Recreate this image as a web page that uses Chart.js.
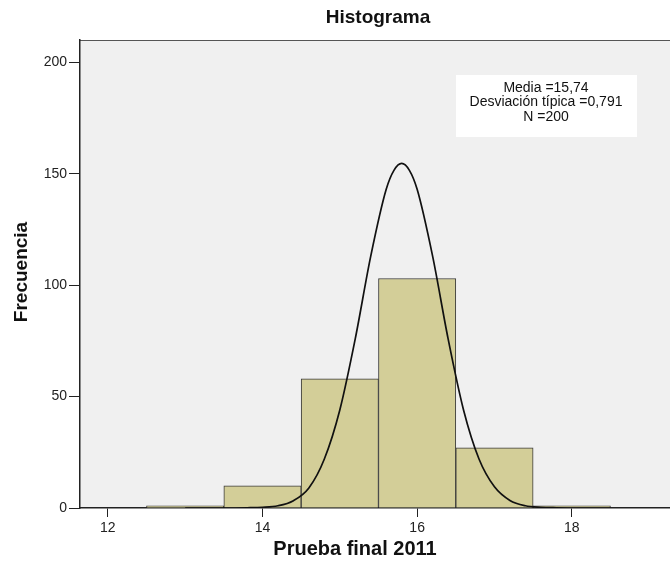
<!DOCTYPE html>
<html>
<head>
<meta charset="utf-8">
<script src="https://cdn.jsdelivr.net/npm/chart.js@4.4.1/dist/chart.umd.min.js"></script>
<style>
  html, body { margin: 0; padding: 0; background: #fff; }
  #wrap { width: 670px; height: 565px; }
</style>
</head>
<body>
<div id="wrap"><canvas id="hist" width="670" height="565"></canvas></div>
<script>
// Histogram bins (centre of each 1-point bin) and counts
const binCenters = [13, 14, 15, 16, 17, 18];
const frequencies = [1, 10, 58, 103, 27, 1];

// Normal curve
const curveX = [13.0, 13.5, 13.8, 14.0, 14.2, 14.4, 14.6, 14.8, 15.0, 15.2, 15.4, 15.6, 15.7, 15.8,
                15.9, 16.0, 16.2, 16.4, 16.6, 16.8, 17.0, 17.2, 17.4, 17.6, 17.8, 18.1, 18.5];
const curveY = [0, 0, 0.1, 0.3, 1, 3.3, 9, 22, 44, 76, 113, 143, 151.5, 154.6,
                151.5, 143, 113, 76, 44, 22, 9.5, 3.4, 1, 0.3, 0.1, 0, 0];

const xTicks = [12, 14, 16, 18];
const yTicks = [0, 50, 100, 150, 200];

const statLines = ['Media =15,74', 'Desviación típica =0,791', 'N =200'];

const FONT = 'Arial, "Liberation Sans", sans-serif';

// background, plot panel, title, axis titles and the stats box
const decor = {
  id: 'decor',
  beforeDraw(chart) {
    const { ctx, chartArea: a } = chart;
    ctx.save();
    ctx.fillStyle = '#fff';
    ctx.fillRect(0, 0, chart.width, chart.height);
    ctx.fillStyle = '#f0f0f0';
    ctx.fillRect(a.left, a.top, a.right - a.left, a.bottom - a.top);
    ctx.strokeStyle = '#555';
    ctx.lineWidth = 1;
    ctx.beginPath();
    ctx.moveTo(a.left, a.top + 0.5);
    ctx.lineTo(a.right, a.top + 0.5);
    ctx.stroke();
    ctx.restore();
  },
  afterDraw(chart) {
    const { ctx, chartArea: a } = chart;
    const cx = (a.left + a.right) / 2;
    ctx.save();
    ctx.fillStyle = '#111';
    ctx.textAlign = 'center';
    ctx.textBaseline = 'middle';

    ctx.font = 'bold 19px ' + FONT;
    ctx.fillText('Histograma', cx + 3, 18);

    ctx.font = 'bold 20px ' + FONT;
    ctx.fillText('Prueba final 2011', 355, 549);

    ctx.save();
    ctx.translate(22, 272);
    ctx.rotate(-Math.PI / 2);
    ctx.font = 'bold 19px ' + FONT;
    ctx.fillText('Frecuencia', 0, 0);
    ctx.restore();

    // stats box
    ctx.fillStyle = '#fff';
    ctx.fillRect(456, 75, 181, 62);
    ctx.fillStyle = '#111';
    ctx.font = '14px ' + FONT;
    statLines.forEach((t, i) => ctx.fillText(t, 546, 88 + i * 14.5));
    ctx.restore();
  }
};

const ctx = document.getElementById('hist').getContext('2d');
const chart = new Chart(ctx, {
  type: 'bar',
  data: {
    datasets: [
      {
        type: 'line',
        data: curveX.map((x, i) => ({ x: x, y: curveY[i] })),
        borderColor: '#111',
        borderWidth: 1.7,
        pointRadius: 0,
        fill: false,
        cubicInterpolationMode: 'monotone',
        order: 0
      },
      {
        type: 'bar',
        data: binCenters.map((x, i) => ({ x: x, y: frequencies[i] })),
        backgroundColor: 'rgb(211, 206, 152)',
        borderColor: '#3a3a3a',
        borderWidth: 1,
        barPercentage: 1,
        categoryPercentage: 1,
        order: 1
      }
    ]
  },
  options: {
    responsive: false,
    animation: false,
    devicePixelRatio: 1,
    layout: { padding: { top: 40, left: 0, right: 0, bottom: 0 } },
    plugins: {
      legend: { display: false },
      title: { display: false },
      tooltip: { enabled: false }
    },
    scales: {
      x: {
        type: 'linear',
        min: 11.64,
        max: 19.27,
        offset: false,
        afterBuildTicks: s => { s.ticks = xTicks.map(v => ({ value: v })); },
        afterFit: s => { s.height = 57; },
        grid: { offset: false, drawOnChartArea: false, drawTicks: true, tickLength: 9, color: '#222' },
        border: { color: '#222', width: 1.5 },
        ticks: { color: '#222', font: { family: FONT, size: 14 }, padding: 3, maxRotation: 0 }
      },
      y: {
        min: 0,
        max: 210,
        afterBuildTicks: s => { s.ticks = yTicks.map(v => ({ value: v })); },
        afterFit: s => { s.width = 80; },
        grid: { drawOnChartArea: false, drawTicks: true, tickLength: 11, color: '#222' },
        border: { color: '#222', width: 1.5 },
        ticks: { color: '#222', font: { family: FONT, size: 14 }, padding: 2 }
      }
    }
  },
  plugins: [decor]
});
</script>
</body>
</html>
